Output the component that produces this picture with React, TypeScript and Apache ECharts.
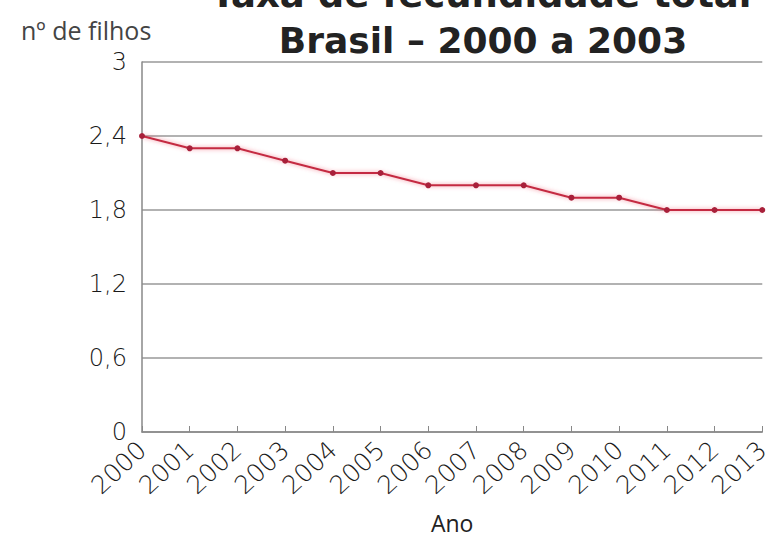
import React, { useEffect, useRef } from "react";
import * as echarts from "echarts";

// Taxa de fecundidade total — Brasil
const years = ["2000", "2001", "2002", "2003", "2004", "2005", "2006", "2007", "2008", "2009", "2010", "2011", "2012", "2013"];
const fertility = [2.4, 2.3, 2.3, 2.2, 2.1, 2.1, 2.0, 2.0, 2.0, 1.9, 1.9, 1.8, 1.8, 1.8];
const titleTop = "Taxa de fecundidade total";
const titleMain = "Brasil \u2013 2000 a 2003";
const yName = "nº de filhos";
const xName = "Ano";

const fmtY = (v: number) => {
  const r = Math.round(v * 10) / 10;
  return Number.isInteger(r) ? String(r) : r.toFixed(1).replace(".", ",");
};

const tickFont = "DejaVu Sans";

export default function App() {
  const ref = useRef<HTMLDivElement>(null);

  useEffect(() => {
    document.body.style.margin = "0";
    const chart = echarts.init(ref.current!, undefined, { renderer: "svg" });
    chart.setOption({
      animation: false,
      backgroundColor: "#ffffff",
      title: [
        {
          text: titleTop,
          left: 476,
          textAlign: "center",
          top: -29,
          textStyle: { fontFamily: "DejaVu Sans", fontWeight: "bold", fontSize: 37, color: "#222" },
        },
        {
          text: titleMain,
          left: 478,
          textAlign: "center",
          top: 17,
          textStyle: { fontFamily: "DejaVu Sans", fontWeight: "bold", fontSize: 36, color: "#222" },
        },
      ],
      graphic: [
        {
          type: "text",
          left: 21,
          top: 17,
          style: { text: yName, fontFamily: "Liberation Sans Narrow, Open Sans", fontSize: 25, fill: "#444" },
        },
      ],
      grid: { left: 142, right: 0, top: 62, bottom: 106, containLabel: false },
      xAxis: {
        type: "category",
        data: years,
        boundaryGap: false,
        name: xName,
        nameLocation: "middle",
        nameGap: 79,
        nameTextStyle: { fontFamily: "Open Sans", fontSize: 23, color: "#222" },
        axisLine: { lineStyle: { color: "#888", width: 1.5 } },
        axisTick: { inside: true, length: 6, lineStyle: { color: "#888" } },
        axisLabel: {
          rotate: 43,
          margin: 14,
          interval: 0,
          fontFamily: tickFont,
          fontWeight: 200,
          fontSize: 25,
          color: "#1a1a1a",
        },
      },
      yAxis: {
        type: "value",
        min: 0,
        max: 3,
        interval: 0.6,
        axisLine: { show: true, lineStyle: { color: "#888", width: 1.5 } },
        axisTick: { show: false },
        splitLine: { lineStyle: { color: "#999", width: 1.5 } },
        axisLabel: {
          formatter: fmtY,
          margin: 15,
          fontFamily: tickFont,
          fontWeight: 200,
          fontSize: 24,
          color: "#1a1a1a",
        },
      },
      series: [
        {
          type: "line",
          data: fertility,
          symbol: "circle",
          symbolSize: 6,
          itemStyle: { color: "#a8203a" },
          lineStyle: {
            color: "#c42a42",
            width: 2,
            shadowBlur: 4,
            shadowColor: "rgba(240,90,110,0.7)",
          },
        },
      ],
    });
    return () => chart.dispose();
  }, []);

  return <div ref={ref} style={{ width: 773, height: 539, position: "absolute", left: 0, top: 0 }} />;
}
